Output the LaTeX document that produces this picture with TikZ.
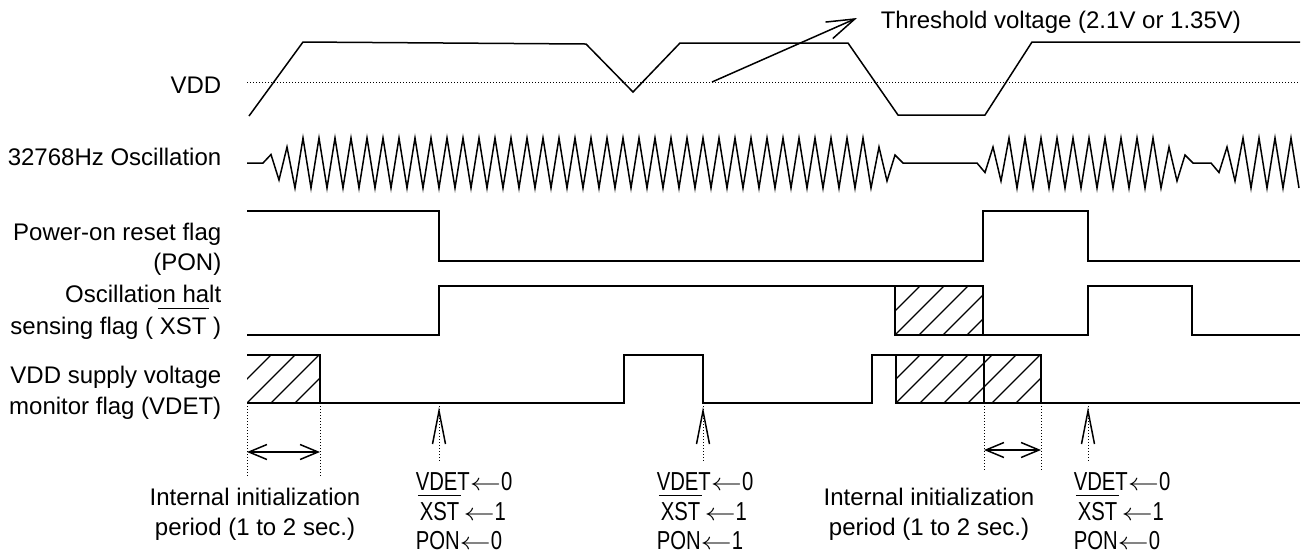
\documentclass[tikz,border=0pt]{standalone}
\usepackage{fontspec}
\setmainfont{Liberation Sans}
\newfontfamily\nfont[FakeStretch=0.78]{Liberation Sans}
\usetikzlibrary{arrows.meta}
\newlength\ovlw
\newcommand\ovl[2]{\settowidth\ovlw{#1}\makebox[0pt][l]{\hspace{-1pt}\rule[#2]{\dimexpr\ovlw+2pt\relax}{0.6pt}}#1}
\newcommand\larr{\scalebox{1.3}[1]{$\leftarrow$}}
\newcommand\hatchfill[4]{%
  \begin{scope}
    \clip (#1,#3) rectangle (#2,#4);
    \foreach \k in {-3,...,8} \draw[hatchln] ({#1+24*\k},#4) -- ({#1+24*\k+(#4-#3)},#3);
  \end{scope}}
\begin{document}
\begin{tikzpicture}[x=0.5pt,y=-0.5pt, line width=0.75pt,
  lbl/.style={anchor=base east,inner sep=0pt,font=\fontsize{12}{14}\selectfont},
  txt/.style={anchor=base,inner sep=0pt,font=\fontsize{12}{14}\selectfont},
  act/.style={anchor=base west,inner sep=0pt,font=\nfont\fontsize{13}{15}\selectfont},
  wave/.style={line width=0.75pt, line join=miter},
  thr/.style={line width=0.5pt, dash pattern=on 0.5pt off 1pt},
  guide/.style={line width=0.5pt, dash pattern=on 0.5pt off 1pt},
  hatchln/.style={line width=0.6pt},
  barb/.style={{Straight Barb[length=9pt,width=7.5pt]}-{Straight Barb[length=9pt,width=7.5pt]}},
  upbarb/.style={line width=0.75pt},
]
\useasboundingbox (0,0) rectangle (1307,554);

% ---- labels ----
\node[lbl] (lvdd) at (222,93.5) {VDD};
\node[lbl] (losc) at (222,165) {32768Hz Oscillation};
\node[lbl] (lpon1) at (222,240) {Power-on reset flag};
\node[lbl] (lpon2) at (222,270) {(PON)};
\node[lbl] (lxst1) at (222,302) {Oscillation halt};
\node[lbl] (lxst2) at (222,334) {sensing flag ( \ovl{XST}{12.3pt} )};
\node[lbl] (lvdet1) at (222,383) {VDD supply voltage};
\node[lbl] (lvdet2) at (222,414) {monitor flag (VDET)};

% ---- VDD ----
\draw[thr] (247,82) -- (1300,82);
\draw[wave] (249,116) -- (303,42) -- (586,44) -- (633,92) -- (680,43) -- (848,43)
  -- (898,115) -- (985,115) -- (1032,42) -- (1300,42);
\node[anchor=base west,inner sep=0pt,font=\fontsize{12}{14}\selectfont] (thrtxt) at (880,28) {Threshold voltage (2.1V or 1.35V)};
\coordinate (thrtail) at (712,82);
\coordinate (thrtip) at (857,18);
\draw[-{Straight Barb[length=14pt,width=9pt]}] (thrtail) -- (thrtip);

% ---- oscillation ----
\draw[wave] (247,163) -- (263,163) -- (271,154.5) -- (279,180) -- (287,147) -- (295,188)
  \foreach \k in {0,...,35} { -- ({303+16*\k},138) -- ({311+16*\k},188) }
  -- (879,147) -- (887,181) -- (895,155) -- (903,163) -- (977,163)
  -- (985,172.5) -- (993,147) -- (1001,181)
  \foreach \k in {0,...,9} { -- ({1009+16*\k},138) -- ({1017+16*\k},188) }
  -- (1169,147) -- (1177,181) -- (1185,155) -- (1193,163) -- (1211,163)
  -- (1219,172.5) -- (1227,147) -- (1235,181)
  \foreach \k in {0,...,3} { -- ({1243+16*\k},138) -- ({1251+16*\k},188) };

% ---- PON ----
\draw[wave] (247,211) -- (439,211) -- (439,261) -- (983,261) -- (983,211) -- (1088,211)
  -- (1088,261) -- (1300,261);

% ---- XST ----
\hatchfill{895}{983}{286}{335}
\draw[wave] (247,335) -- (439,335) -- (439,286) -- (983,286) -- (983,335) -- (1088,335)
  -- (1088,286) -- (1192,286) -- (1192,335) -- (1300,335);
\draw[wave] (895,286) -- (895,335) -- (983,335);

% ---- VDET ----
\hatchfill{247}{320}{355}{403}
\hatchfill{896}{1041}{355}{403}
\draw[wave] (247,355) -- (320,355) -- (320,403);
\draw[wave] (247,403) -- (624,403) -- (624,355) -- (703,355) -- (703,403) -- (872,403)
  -- (872,355) -- (1041,355) -- (1041,403) -- (1300,403);
\draw[wave] (896,355) -- (896,403) -- (1041,403);
\draw[wave] (984,355) -- (984,403);

% ---- guides and period arrows ----
\coordinate (g1a) at (247,403); \coordinate (g1b) at (247,476);
\coordinate (g2a) at (320,403); \coordinate (g2b) at (320,476);
\coordinate (g3a) at (984,403); \coordinate (g3b) at (984,470);
\coordinate (g4a) at (1041,403); \coordinate (g4b) at (1041,470);
\draw[guide] (g1a) -- (g1b);
\draw[guide] (g2a) -- (g2b);
\draw[guide] (g3a) -- (g3b);
\draw[guide] (g4a) -- (g4b);
\coordinate (p1a) at (247,452); \coordinate (p1b) at (320,452);
\coordinate (p2a) at (984,450); \coordinate (p2b) at (1041,450);
\draw[barb] (p1a) -- (p1b);
\draw[barb] (p2a) -- (p2b);

% ---- event arrows ----
\foreach \x/\n in {439/a,703/b,1088/c} {
  \coordinate (ev\n) at (\x,411);
  \draw[guide] (\x,403) -- (\x,463);
  \draw[upbarb] (\x-6.5,444) -- (ev\n) -- (\x+6.5,444);
}

% ---- event texts ----
\node[act] (e1a) at (415,490) {VDET\larr0};
\node[act] (e1b) at (415,520) {\hspace{2pt}\ovl{XST}{12pt}\,\larr1};
\node[act] (e1c) at (415,549) {PON\larr0};
\node[act] (e2a) at (656,490) {VDET\larr0};
\node[act] (e2b) at (656,520) {\hspace{2pt}\ovl{XST}{12pt}\,\larr1};
\node[act] (e2c) at (656,549) {PON\larr1};
\node[act] (e3a) at (1073,490) {VDET\larr0};
\node[act] (e3b) at (1073,520) {\hspace{2pt}\ovl{XST}{12pt}\,\larr1};
\node[act] (e3c) at (1073,549) {PON\larr0};

\node[txt] (i1a) at (255,505) {Internal initialization};
\node[txt] (i1b) at (255,535) {period (1 to 2 sec.)};
\node[txt] (i2a) at (929,505) {Internal initialization};
\node[txt] (i2b) at (929,535) {period (1 to 2 sec.)};
\end{tikzpicture}
\end{document}
